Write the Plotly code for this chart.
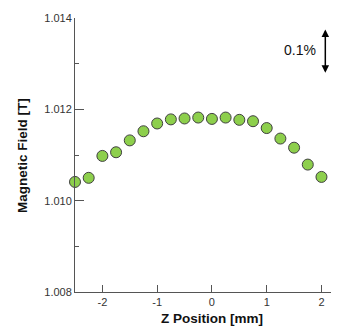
import plotly.graph_objects as go

z_mm = [-2.5, -2.25, -2.0, -1.75, -1.5, -1.25, -1.0, -0.75, -0.5, -0.25,
        0.0, 0.25, 0.5, 0.75, 1.0, 1.25, 1.5, 1.75, 2.0]
field_T = [1.01041, 1.01050, 1.01098, 1.01106, 1.01132, 1.01152, 1.01169, 1.01178,
           1.01180, 1.01182, 1.01179, 1.01182, 1.01177, 1.01174, 1.01159, 1.01136,
           1.01116, 1.01079, 1.01052]
y_ticks = [1.008, 1.010, 1.012, 1.014]
x_ticks = [-2, -1, 0, 1, 2]

fig = go.Figure()
fig.add_trace(go.Scatter(
    x=z_mm, y=field_T, mode="markers", cliponaxis=False,
    marker=dict(size=11, color="#8dcf4c", line=dict(color="#404040", width=1)),
))

axis_font = dict(family="Liberation Sans, Arial, sans-serif", size=11, color="#333")
fig.update_layout(
    width=331, height=320,
    margin=dict(l=67, r=0, t=10, b=36),
    paper_bgcolor="white", plot_bgcolor="white",
    showlegend=False,
    font=dict(family="Liberation Sans, Arial, sans-serif"),
    xaxis=dict(
        range=[-2.5, 2.32], tickvals=x_ticks, ticktext=[str(v) for v in x_ticks],
        ticks="inside", ticklen=7, tickcolor="#555", tickwidth=1,
        showline=True, linecolor="#555", linewidth=1, showgrid=False, zeroline=False,
        tickfont=axis_font,
    ),
    yaxis=dict(
        range=[1.008, 1.014], tickvals=y_ticks, ticktext=["%.3f" % v for v in y_ticks],
        ticks="inside", ticklen=9, tickcolor="#555", tickwidth=1,
        minor=dict(ticks="inside", ticklen=4, dtick=0.001, tick0=1.008, tickcolor="#555"),
        showline=True, linecolor="#555", linewidth=1, showgrid=False, zeroline=False,
        tickfont=axis_font,
    ),
)

title_font = dict(family="Liberation Sans, Arial, sans-serif", size=13.5, color="#111")
fig.add_annotation(
    x=0.519, y=-0.095, xref="paper", yref="paper", text="<b>Z Position [mm]</b>",
    showarrow=False, xanchor="center", yanchor="middle", font=title_font,
)
fig.add_annotation(
    x=-0.2008, y=0.5, xref="paper", yref="paper", text="<b>Magnetic Field [T]</b>",
    showarrow=False, xanchor="center", yanchor="middle", textangle=-90, font=title_font,
)

fig.add_annotation(
    x=2.07, y=1.0128, ax=2.07, ay=1.01378, xref="x", yref="y", axref="x", ayref="y",
    text="", showarrow=True, arrowhead=2, startarrowhead=2, arrowside="end+start",
    arrowwidth=1.5, arrowsize=1, startarrowsize=1, arrowcolor="#000",
)
fig.add_annotation(
    x=1.61, y=1.0133, xref="x", yref="y", text="0.1%", showarrow=False,
    font=dict(size=14, color="#111"),
)

fig.write_html("out.html")
